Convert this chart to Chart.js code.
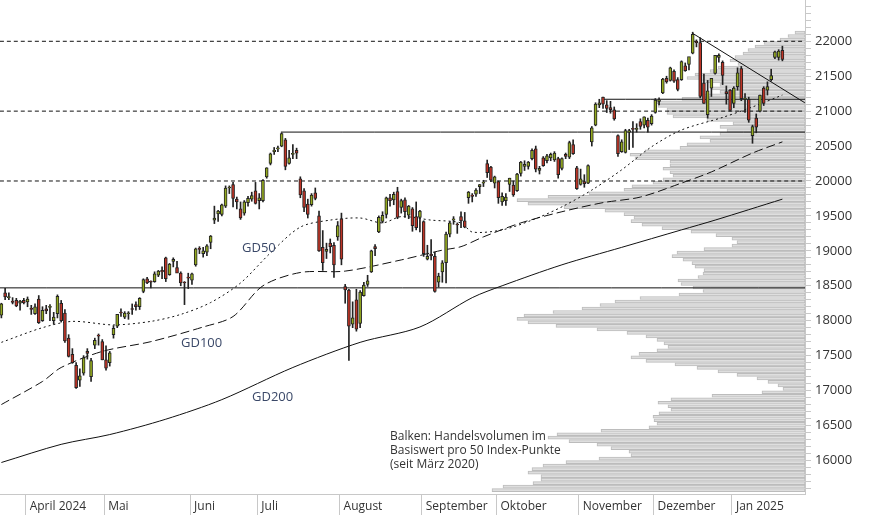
<!DOCTYPE html>
<html>
<head>
<meta charset="utf-8">
<script src="https://cdn.jsdelivr.net/npm/chart.js@4"></script>
<style>
  html, body { margin: 0; padding: 0; background: #fff; }
  #wrap { width: 874px; height: 515px; position: relative; }
</style>
</head>
<body>
<div id="wrap"><canvas id="chart"></canvas></div>
<script>
'use strict';

// --- daily candles [open, high, low, close] per month ---
const ohlcMar = [[18080,18250,18040,18240],[18400,18464,18300,18340],[18330,18400,18300,18339],[18280,18330,18240,18262],[18290,18320,18200,18211],[18250,18290,18150,18281],[18290,18320,18240,18255]];
const ohlcApr = [[18270,18340,18200,18310],[18180,18220,18090,18160],[18100,18240,18090,18200],[18310,18360,17960,17970],[18000,18200,17990,18150],[18170,18220,18100,18140],[18190,18230,18000,18190],[18000,18120,17950,18050],[18100,18370,18040,18350],[18250,18290,17980,18000],[18110,18160,17690,17710],[17750,17800,17480,17490],[17520,17600,17390,17400],[17360,17400,17030,17040],[17150,17310,17060,17210],[17250,17500,17220,17470],[17560,17600,17450,17530],[17200,17460,17130,17430],[17650,17750,17600,17720],[17790,17810,17650,17780],[17700,17730,17440,17440]];
const ohlcMai = [[17440,17640,17290,17320],[17400,17560,17350,17540],[17800,17930,17750,17890],[17920,18090,17900,18090],[18120,18170,18060,18110],[18050,18130,18030,18110],[18100,18130,18020,18110],[18170,18240,18090,18160],[18230,18270,18150,18200],[18200,18330,18160,18320],[18420,18600,18400,18590],[18600,18620,18530,18540],[18560,18570,18470,18550],[18560,18700,18550,18670],[18650,18720,18630,18710],[18720,18770,18600,18700],[18900,18910,18560,18600],[18660,18820,18650,18810],[18850,18900,18770,18880],[18760,18850,18700,18680],[18680,18700,18500,18540],[18550,18560,18230,18540]];
const ohlcJun = [[18620,18680,18460,18610],[18580,18680,18520,18670],[18800,19040,18780,19030],[19030,19060,18960,19020],[18960,19050,18910,19000],[18980,19090,18930,19070],[19120,19220,19030,19210],[19440,19640,19390,19470],[19530,19580,19420,19570],[19520,19670,19500,19660],[19640,19930,19620,19900],[19900,19930,19820,19910],[19950,19980,19630,19750],[19740,19770,19600,19700],[19600,19700,19450,19470],[19540,19720,19510,19700],[19690,19780,19640,19750],[19740,19840,19710,19790],[19860,19980,19670,19680]];
const ohlcJul = [[19720,19820,19600,19760],[19720,20020,19700,20010],[20060,20190,20040,20190],[20250,20400,20230,20390],[20420,20480,20380,20440],[20460,20500,20420,20460],[20500,20690,20490,20680],[20590,20610,20160,20210],[20250,20440,20240,20330],[20380,20520,20320,20390],[20440,20470,20320,20400],[20030,20060,19760,19800],[19860,19890,19560,19620],[19670,19740,19470,19520],[19660,19820,19640,19800],[19830,19900,19730,19750],[19500,19570,18990,19000],[19050,19290,18720,18830],[18990,19110,18890,19020],[19110,19170,18970,19060],[19080,19120,18620,18800],[19200,19420,19150,19360]];
const ohlcAug = [[19460,19540,18800,18880],[18490,18520,18250,18440],[18440,18450,17430,17920],[17950,18270,17900,18040],[18300,18450,17850,17880],[17960,18430,17900,18410],[18360,18550,18350,18510],[18520,18650,18490,18570],[18700,19010,18690,19000],[19060,19090,18930,19030],[19270,19500,19260,19480],[19420,19560,19400,19510],[19520,19770,19470,19760],[19760,19810,19640,19720],[19730,19840,19660,19810],[19850,19910,19460,19480],[19620,19740,19540,19720],[19730,19760,19480,19560],[19510,19650,19460,19640],[19600,19620,19280,19360],[19490,19700,19300,19330],[19480,19580,19270,19570]];
const ohlcSep = [[19420,19430,18920,18960],[18880,19080,18870,18920],[18950,19160,18870,18930],[18920,18980,18410,18420],[18550,18680,18480,18640],[18700,18860,18550,18830],[18830,19270,18540,19240],[19240,19420,19200,19400],[19440,19490,19380,19460],[19380,19400,19250,19370],[19490,19560,19330,19430],[19430,19550,19330,19340],[19760,19850,19680,19840],[19800,19820,19700,19780],[19810,19890,19780,19870],[19920,19950,19820,19950],[19970,20010,19920,19980],[20250,20300,20050,20120],[20200,20210,19990,20010],[19970,20070,19900,20060]];
const ohlcOkt = [[19990,20000,19680,19760],[19700,19830,19650,19780],[19720,19820,19650,19770],[19950,20040,19850,20040],[19940,20000,19780,19800],[19860,20110,19850,20100],[20110,20280,20070,20270],[20210,20290,20150,20240],[20210,20280,20170,20270],[20320,20460,20300,20440],[20460,20500,20130,20170],[20150,20210,20100,20180],[20330,20350,20210,20220],[20290,20380,20260,20360],[20330,20400,20290,20380],[20300,20420,20280,20400],[20320,20340,20040,20090],[20180,20330,20160,20320],[20380,20400,20320,20350],[20340,20570,20320,20550],[20520,20590,20380,20390],[20190,20210,19880,19890]];
const ohlcNov = [[19950,20170,19940,20030],[19990,20090,19910,19960],[19970,20230,19960,20220],[20560,20780,20500,20760],[20800,21120,20790,21100],[21090,21170,21050,21120],[21200,21200,21040,21100],[21090,21150,20980,21040],[21050,21140,20970,21020],[21020,21060,20870,20890],[20650,20660,20350,20390],[20420,20590,20410,20560],[20410,20740,20400,20720],[20700,20740,20450,20720],[20750,20850,20480,20740],[20740,20820,20700,20740],[20850,20890,20740,20780],[20800,20920,20760,20920],[20870,20900,20700,20770],[20820,20950,20800,20930]];
const ohlcDez = [[20980,21180,20970,21160],[21140,21190,21090,21160],[21260,21470,21250,21460],[21470,21500,21400,21420],[21440,21630,21430,21620],[21570,21590,21410,21430],[21450,21480,21290,21310],[21450,21720,21440,21710],[21650,21690,21570,21580],[21670,21770,21590,21780],[21830,22130,21820,22100],[22000,22020,21920,21980],[21980,22050,21190,21210],[21400,21530,21110,21110],[20950,21440,20900,21290],[21330,21470,21210,21470],[21540,21800,21530,21800],[21770,21820,21700,21800],[21700,21720,21380,21510],[21280,21360,21100,21250],[21300,21310,21000,21010]];
const ohlcJan = [[21110,21350,21050,21330],[21350,21620,21300,21550],[21610,21640,21150,21180],[21170,21250,20980,21170],[21170,21200,20840,20870],[20650,20800,20540,20780],[20900,20960,20690,20770],[21000,21230,20990,21230],[21330,21350,21080,21110],[21300,21420,21230,21350],[21450,21600,21430,21510],[21770,21860,21750,21850],[21770,21880,21730,21860],[21870,21930,21720,21740]];

// --- moving averages: [trading-day index, value] ---
const gd50 = [[0,17690],[11,17900],[19,17990],[30,17940],[40,17990],[48,18090],[56,18260],[64,18540],[72,18970],[80,19340],[88,19440],[96,19470],[102,19400],[107,19490],[115,19440],[123,19400],[126,19270],[134,19300],[142,19440],[150,19630],[158,19870],[166,20160],[174,20490],[182,20730],[193,20910],[201,21060],[209,21230]];
const gd100 = [[0,16800],[11,17130],[16,17330],[27,17560],[40,17700],[54,17910],[62,18060],[70,18500],[80,18690],[92,18710],[107,18870],[118,19010],[123,19060],[129,19200],[139,19400],[150,19560],[161,19690],[171,19770],[182,19970],[190,20130],[201,20400],[209,20560]];
const gd200 = [[0,15970],[16,16230],[29,16370],[44,16590],[59,16870],[78,17330],[96,17690],[112,17910],[126,18330],[134,18500],[150,18800],[166,19050],[182,19300],[191,19440],[209,19740]];

// --- horizontal levels and trendline ---
const dashedLevels = [20000, 21000, 22000];
const supportLevel = 18470;
const juliHigh = { from: 75.3, value: 20700 };
const novHigh = { from: 161.2, value: 21170 };
const trendLine = [[185.3, 22120], [215.5, 21120]];

// --- volume profile (bars per 50 index points, relative length), from 15575 upward ---
const profileStart = 15575;
const profileStep = 50;
const profileVolume = [313,302,272,264,264,277,273,262,239,206,174,176,194,208,236,257,248,204,156,148,151,152,146,134,137,147,134,93,43,22,27,37,48,68,87,108,130,159,174,166,148,137,141,148,159,178,
  208,249,277,288,281,252,223,205,190,165,126,102,112,124,127,107,102,101,110,113,122,133,128,101,73,68,73,89,114,143,163,174,171,181,200,241,277,288,257,216,181,173,152,142,132,135,
  142,135,135,170,175,160,125,118,95,105,85,78,85,72,98,132,138,138,147,148,123,105,85,93,85,105,118,110,95,87,67,75,70,62,57,50,41,25,17,10];

// --- axis ticks ---
const monthStarts = [7, 28, 51, 69, 91, 113, 133, 155, 175, 196];
const monthLabels = ['April 2024', 'Mai', 'Juni', 'Juli', 'August', 'September', 'Oktober', 'November', 'Dezember', 'Jan 2025'];
const yLabelMin = 16000, yLabelMax = 22000, yLabelStep = 500;

const UP = '#93a91f', DOWN = '#bd3426';

const candles = [].concat(ohlcMar, ohlcApr, ohlcMai, ohlcJun, ohlcJul, ohlcAug, ohlcSep, ohlcOkt, ohlcNov, ohlcDez, ohlcJan);
const bodies = candles.map((c, i) => ({ x: i + 0.5, y: [c[0], c[3]] }));
const wicks = candles.map((c, i) => ({ x: i + 0.5, y: [c[2], c[1]] }));
const bodyColors = candles.map(c => c[3] >= c[0] ? UP : DOWN);
const pts = arr => arr.map(p => ({ x: p[0] + 0.5, y: p[1] }));

const X_MIN = 0.13, X_MAX = 215.55;

function lineDs(data, dash, order) {
    return { type: 'line', data, borderColor: '#111', borderWidth: 1, borderDash: dash,
        pointRadius: 0, fill: false, tension: 0.3, order, xAxisID: 'x', yAxisID: 'y' };
}
function level(from, v, dash) {
    return lineDs([{ x: from, y: v }, { x: X_MAX, y: v }], dash, 4);
}

const datasets = [
    {
        type: 'bar', indexAxis: 'y', xAxisID: 'xv', yAxisID: 'y', order: 10, grouped: false,
        data: profileVolume.map((v, k) => ({ y: profileStart + k * profileStep, x: [0, v] })),
        backgroundColor: '#dedede', borderColor: '#bcbcbc', borderWidth: 1, borderSkipped: false,
        barThickness: 3
    },
    lineDs(pts(gd50), [2, 3], 5),
    lineDs(pts(gd100), [9, 4], 5),
    lineDs(pts(gd200), [], 5),
    ...dashedLevels.map(v => level(X_MIN, v, [4, 3])),
    level(X_MIN, supportLevel, []),
    level(juliHigh.from, juliHigh.value, []),
    level(novHigh.from, novHigh.value, []),
    Object.assign(lineDs(trendLine.map(p => ({ x: p[0], y: p[1] })), [], 4), { tension: 0 }),
    {
        type: 'bar', data: wicks, order: 2, grouped: false, xAxisID: 'x', yAxisID: 'y',
        backgroundColor: '#222', borderWidth: 0, barThickness: 1
    },
    {
        type: 'bar', data: bodies, order: 1, grouped: false, xAxisID: 'x', yAxisID: 'y',
        backgroundColor: bodyColors, borderColor: '#222', borderWidth: 1, borderSkipped: false,
        barThickness: 3, minBarLength: 1
    }
];

const textPlugin = {
    id: 'texts',
    afterDatasetsDraw(chart) {
        const ctx = chart.ctx;
        ctx.save();
        ctx.fillStyle = '#3a4868';
        ctx.font = '13px "Open Sans"';
        ctx.textBaseline = 'middle';
        ctx.fillText('GD50', 242, 248);
        ctx.fillText('GD100', 181, 343);
        ctx.fillText('GD200', 252, 397);
        ctx.fillStyle = '#333';
        ctx.font = '12px "Open Sans"';
        ctx.fillText('Balken: Handelsvolumen im', 390, 437);
        ctx.fillText('Basiswert pro 50 Index-Punkte', 390, 451);
        ctx.fillText('(seit M\u00e4rz 2020)', 390, 465);
        ctx.restore();
    }
};

new Chart(document.getElementById('chart'), {
    data: { datasets },
    plugins: [textPlugin],
    options: {
        responsive: true,
        maintainAspectRatio: false,
        animation: false,
        layout: { padding: 0 },
        plugins: { legend: { display: false }, tooltip: { enabled: false } },
        scales: {
            x: {
                type: 'linear', min: X_MIN, max: X_MAX, position: 'bottom', offset: false,
                afterBuildTicks: s => { s.ticks = monthStarts.map(v => ({ value: v })); },
                afterFit: s => { s.height = 21; s.paddingLeft = 0; s.paddingRight = 0; },
                ticks: {
                    autoSkip: false, maxRotation: 0, align: 'start', padding: -16, labelOffset: 4,
                    color: '#333', font: { family: 'Open Sans', size: 12 },
                    callback: (v, i) => monthLabels[i]
                },
                grid: { drawOnChartArea: false, tickLength: 21, color: '#c8c8c8', offset: false },
                border: { color: '#c8c8c8' }
            },
            xv: { type: 'linear', display: false, min: 0, max: 805, reverse: true, offset: false },
            y: {
                type: 'linear', position: 'right', min: 15519, max: 22591, offset: false,
                afterBuildTicks: s => {
                    const t = [];
                    for (let v = 15600; v <= 22500; v += 100) t.push({ value: v });
                    s.ticks = t;
                },
                afterFit: s => { s.width = 69; s.paddingTop = 0; s.paddingBottom = 0; },
                ticks: {
                    autoSkip: false, padding: 4, color: '#333', font: { family: 'Open Sans', size: 13 },
                    callback: v => (v % yLabelStep === 0 && v >= yLabelMin && v <= yLabelMax) ? String(v) : ''
                },
                grid: { drawOnChartArea: false, tickLength: 6, color: '#c8c8c8', offset: false },
                border: { color: '#c8c8c8' }
            }
        }
    }
});
</script>
</body>
</html>
